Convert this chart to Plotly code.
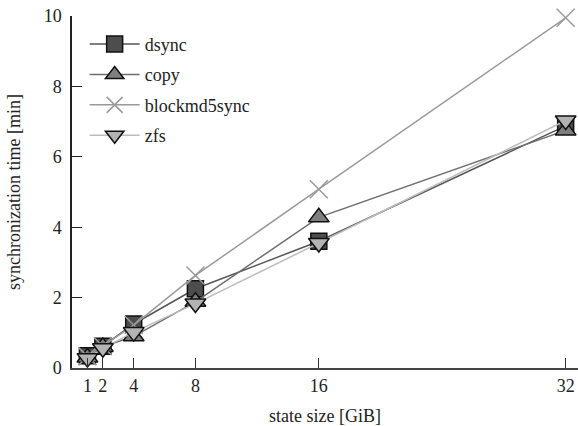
import plotly.graph_objects as go

sizes = [1, 2, 4, 8, 16, 32]
x_ticks = [1, 2, 4, 8, 16, 32]
y_ticks = [0, 2, 4, 6, 8, 10]

dsync = [0.35, 0.62, 1.25, 2.25, 3.60, 6.88]
copy = [0.30, 0.60, 0.90, 1.88, 4.28, 6.75]
blockmd5sync = [0.33, 0.62, 1.22, 2.63, 5.08, 9.95]
zfs = [0.28, 0.56, 1.02, 1.83, 3.55, 7.03]

series = [
    ("dsync", dsync, "square", "#555555", "#4d4d4d", 16),
    ("copy", copy, "triangle-up", "#6e6e6e", "#7f7f7f", 18),
    ("blockmd5sync", blockmd5sync, "x-thin", "#9a9a9a", "#9a9a9a", 18),
    ("zfs", zfs, "triangle-down", "#bdbdbd", "#b3b3b3", 18),
]

fig = go.Figure()
for name, vals, sym, lc, fc, ms in series:
    if sym == "x-thin":
        marker = dict(symbol=sym, size=ms, color=fc, line=dict(color=lc, width=1.5))
    else:
        marker = dict(symbol=sym, size=ms, color=fc, line=dict(color="#111111", width=1.5))
    fig.add_trace(go.Scatter(
        x=sizes, y=vals, name=name, mode="lines+markers",
        legendgroup=name,
        line=dict(color=lc, width=1.5),
        marker=marker,
        cliponaxis=False,
    ))

font = "Liberation Serif, Times New Roman, serif"
fig.update_layout(
    width=578, height=426,
    margin=dict(l=72, r=0, t=16, b=58, autoexpand=False),
    plot_bgcolor="white", paper_bgcolor="white",
    font=dict(family=font, size=18, color="#222222"),
    showlegend=True,
    legend=dict(
        x=0.025, y=0.972, xanchor="left", yanchor="top",
        bgcolor="rgba(0,0,0,0)", font=dict(size=18),
        tracegroupgap=4, itemwidth=50,
    ),
    xaxis=dict(
        range=[0, 32.8], tickvals=x_ticks, ticktext=[str(v) for v in x_ticks],
        ticks="inside", ticklen=10, tickcolor="#333333", tickwidth=1.2,
        showline=True, linecolor="#444444", linewidth=2, showgrid=False, zeroline=False,
        automargin=False,
        title=dict(text="state size [GiB]", font=dict(size=18), standoff=15),
        tickfont=dict(size=18),
    ),
    yaxis=dict(
        range=[0, 10], tickvals=y_ticks, ticktext=[str(v) for v in y_ticks],
        ticks="inside", ticklen=10, tickcolor="#222222", tickwidth=1.2,
        showline=True, linecolor="#222222", linewidth=1.5, showgrid=False, zeroline=False,
        automargin=False, ticklabelstandoff=5,
        title=dict(text="synchronization time [min]", font=dict(size=18), standoff=18),
        tickfont=dict(size=18),
    ),
)

# remove the browser's default 8px body margin so the figure sits at the page origin
fig.write_html("out.html", config={"displayModeBar": False},
               post_script="document.body.style.margin='0';")
